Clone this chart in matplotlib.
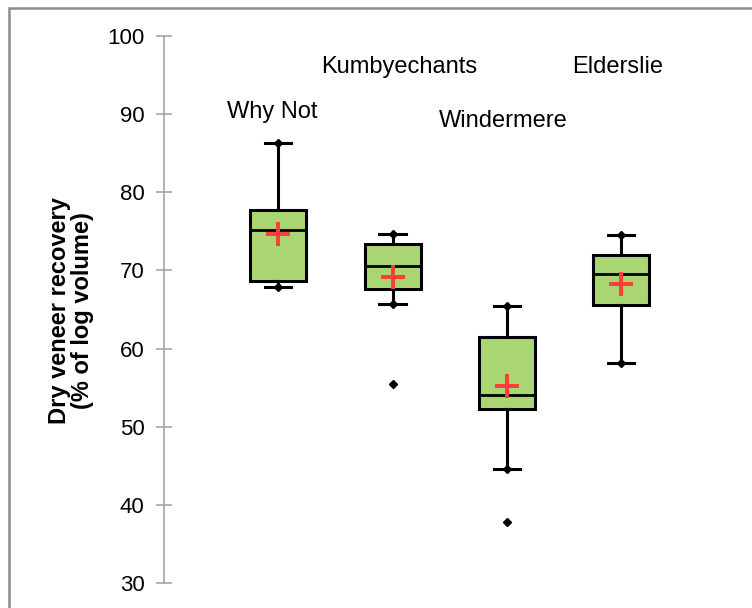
import matplotlib.pyplot as plt
from matplotlib.patches import Rectangle

plt.rcParams['font.family'] = ['Liberation Sans', 'DejaVu Sans']

# Dry veneer recovery by site (% of log volume)
sites = ['Why Not', 'Kumbyechants', 'Windermere', 'Elderslie']
whisker_lo = [67.9, 65.7, 44.6, 58.2]
q1 = [68.6, 67.6, 52.3, 65.6]
medians = [75.2, 70.6, 54.1, 69.5]
q3 = [77.7, 73.4, 61.5, 72.0]
whisker_hi = [86.3, 74.7, 65.4, 74.5]
means = [74.7, 69.2, 55.2, 68.3]
outliers = [[], [55.5], [37.8], []]
label_y = [90.3, 96.0, 89.1, 96.0]
label_dx = [-0.05, 0.06, -0.03, -0.03]

positions = [1, 2, 3, 4]

stats = []
for i in range(len(sites)):
    stats.append({'whislo': whisker_lo[i], 'q1': q1[i], 'med': medians[i],
                  'q3': q3[i], 'whishi': whisker_hi[i], 'fliers': outliers[i],
                  'mean': means[i]})

fig = plt.figure(figsize=(7.52, 6.08), dpi=100)
ax = fig.add_axes([0.218, 0.041, 0.766, 0.8998])

ax.bxp(stats, positions=positions, widths=0.49, patch_artist=True,
       showmeans=True, showfliers=True,
       boxprops=dict(facecolor='#A9D672', edgecolor='black', linewidth=2.2),
       medianprops=dict(color='black', linewidth=2),
       whiskerprops=dict(color='black', linewidth=2.2),
       capprops=dict(color='black', linewidth=2.2),
       capwidths=0.23,
       meanprops=dict(marker='+', markeredgecolor='#FF3B3B', markersize=17,
                      markeredgewidth=2.8),
       flierprops=dict(marker='D', markerfacecolor='black',
                       markeredgecolor='black', markersize=4.5))

# small diamonds at the whisker ends
ax.plot(positions, whisker_hi, 'D', color='black', markersize=4.5, zorder=3)
ax.plot(positions, whisker_lo, 'D', color='black', markersize=4.5, zorder=3)

for x, dx, y, s in zip(positions, label_dx, label_y, sites):
    ax.text(x + dx, y, s, ha='center', va='center', fontsize=17)

ax.set_ylim(30, 100)
ax.set_xlim(0, 5.04)
ax.set_yticks(range(30, 101, 10))
ax.set_xticks([])
for side in ['top', 'right', 'bottom']:
    ax.spines[side].set_visible(False)
ax.spines['left'].set_color('#A6A6A6')
ax.spines['left'].set_linewidth(1.2)
ax.tick_params(axis='y', direction='inout', length=12, width=1.2,
               color='#A6A6A6', labelsize=16, pad=8)

fig.text(71 / 752, 1 - 311 / 608, 'Dry veneer recovery\n(% of log volume)',
         rotation=90, ha='center', va='center', fontsize=17,
         fontweight='bold', linespacing=1.05, multialignment='center')

# outer frame
fig.patches.append(Rectangle((8.5 / 752, -0.1), 1.2, 1 - 7.5 / 608 + 0.1,
                             transform=fig.transFigure, fill=False,
                             edgecolor='#8C8C8C', linewidth=1.8))

fig.savefig('out.png', dpi=100)
